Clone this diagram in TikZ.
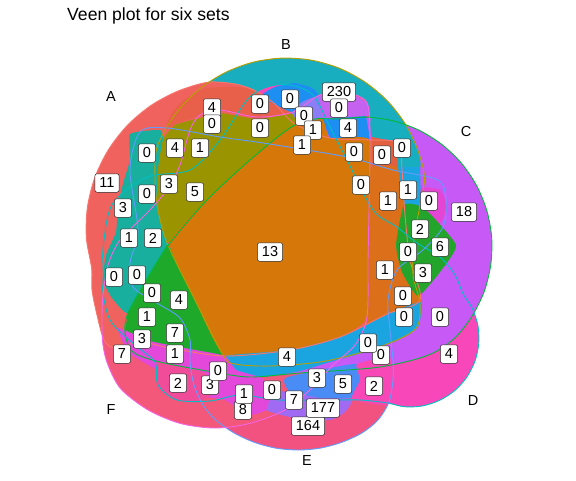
\documentclass[tikz,border=0pt]{standalone}
\usepackage{fontspec}
\setmainfont{Liberation Sans}
\definecolor{fA}{HTML}{F0625E}
\definecolor{fB}{HTML}{18AEBF}
\definecolor{fC}{HTML}{C75AF6}
\definecolor{fD}{HTML}{F747B8}
\definecolor{fE}{HTML}{F2527F}
\definecolor{fF}{HTML}{F3577A}
\definecolor{lA}{HTML}{F8766D}
\definecolor{lB}{HTML}{B79F00}
\definecolor{lC}{HTML}{00BA38}
\definecolor{lD}{HTML}{00BFC4}
\definecolor{lE}{HTML}{619CFF}
\definecolor{lF}{HTML}{F564E3}
\definecolor{cTG}{HTML}{19AF9F}
\definecolor{cGA}{HTML}{1FA92B}
\definecolor{cOL}{HTML}{9A9400}
\definecolor{cSA}{HTML}{E9604A}
\definecolor{cBT}{HTML}{1E8FF2}
\definecolor{cVI}{HTML}{8B7DF5}
\definecolor{cPU}{HTML}{C662F0}
\definecolor{cOR}{HTML}{D67809}
\definecolor{cDO}{HTML}{DC6F1A}
\definecolor{cRO}{HTML}{E2603F}
\definecolor{cGR}{HTML}{22A52A}
\definecolor{cBS}{HTML}{1AA5E0}
\definecolor{cMS}{HTML}{E545D3}
\definecolor{cTE}{HTML}{17AFC0}
\definecolor{cVB}{HTML}{4A8CF6}
\definecolor{cPK}{HTML}{F848B8}
\definecolor{cVT}{HTML}{A06AF2}
\definecolor{cMB}{HTML}{E448DA}
\definecolor{cRS}{HTML}{F04C9A}
\def\shA{plot[smooth cycle,tension=0.5] coordinates {(208.3,82.2) (235,84) (256,91) (275,104) (295,124) (330,138) (370,140) (398,143) (402,170) (405,215) (410,260) (420,300) (387,314) (340,337) (290,350) (225,356) (170,348) (140,342) (115,348) (104,340) (97,315) (92,290) (91.7,268.8) (86.4,238.3) (87.4,207.4) (94.9,177.4) (108.5,149.6) (127.5,125.2) (151.2,105.3) (178.6,90.8)}}
\def\shB{plot[smooth cycle,tension=0.5] coordinates {(156.4,149.5) (166.6,127.5) (180.5,107.7) (201.4,87.5) (226.1,72.1) (253.4,62.1) (282.1,58.1) (311.1,60.1) (339.1,68.1) (364.7,81.8) (387,100.4) (404.9,123.3) (417.6,149.5) (424.6,177.6) (420,205) (414,240) (413,275) (420,303) (417,327) (397,340) (363,352) (320,362) (270,366) (235,364) (223,355) (195,300) (168,245) (158,210) (155,178)}}
\def\shC{plot[smooth cycle,tension=0.5] coordinates {(339.4,119) (366.5,117.1) (393.4,120.9) (419,130.2) (442,144.6) (461.6,163.4) (476.8,186) (487,211.2) (491.7,237.9) (490.7,265.1) (484.2,291.5) (472.2,315.9) (455.5,337.3) (435,352) (413,360) (380,367) (347,370) (300,373) (250,377) (213,372) (160,362) (133,352) (125,333) (128,313) (148,277) (170,243) (207,200) (250,160) (290,128) (315,119)}}
\def\shD{plot[smooth cycle,tension=0.5] coordinates {(290,85) (313,95) (330,127) (347,160) (373,210) (397,227) (417,243) (440,257) (455,275) (462.9,293.6) (472.5,308.8) (478,326) (478.7,344) (474.8,361.6) (466.5,377.6) (454.4,390.9) (439.2,400.5) (422,406) (404,406.7) (386.4,402.8) (360,400) (330,400) (280,400) (240,395) (210,401) (177,400) (158,385) (155,362) (135,345) (110,320) (102,283) (104,240) (113,203) (147,177) (190,170) (220,140) (247,100) (267,87)}}
\def\shE{plot[smooth cycle,tension=0.5] coordinates {(215.7,420) (234,432.9) (254.2,442.3) (275.8,448.1) (298,450) (320.2,448.1) (341.8,442.3) (362,432.9) (378,420) (389,402) (393,380) (393,360) (390,330) (388,300) (397,270) (423,250) (443,227) (446,200) (438,180) (393,170) (347,157) (263,143) (220,137) (167,128) (140,132) (130,170) (138,230) (130,263) (133,287) (157,303) (180,318) (190,340) (190,362) (194,385) (203,405)}}
\def\shF{plot[smooth cycle,tension=0.5] coordinates {(320,95) (347,93) (367,103) (370,140) (369,210) (368,260) (367,317) (355,345) (333,365) (313,387) (285,410) (249.4,423.5) (215,428) (180.6,423.5) (148.5,410.2) (120.9,389) (108,365) (103,345) (102,320) (103,295) (108,265) (120,240) (147,213) (167,190) (180,165) (190,130) (200,115) (220,110) (257,117) (293,112)}}
\begin{document}
\begin{tikzpicture}[x=1pt,y=-1pt,
  lbl/.style={draw=black!85, fill=white, rounded corners=2.2pt, line width=0.5pt, inner xsep=4.6pt, inner ysep=0pt, minimum height=18.5pt, font=\fontsize{14.5}{15}\selectfont},
  setlbl/.style={font=\fontsize{14.5}{15}\selectfont, inner sep=0pt},
  setline/.style={line width=0.9pt}]
\useasboundingbox (0,0) rectangle (576,480);
\fill[white] (0,0) rectangle (576,480);
% set fills
\fill[fB] \shB;
\fill[fD] \shD;
\fill[fE] \shE;
\fill[fF] \shF;
\fill[fC] \shC;
\fill[fA] \shA;
% region patches
\fill[cTG] plot[smooth cycle,tension=0.3] coordinates {(130,134) (160,130) (163,140) (158,170) (158,210) (168,243) (148,277) (128,313) (112,298) (103,280) (106,255) (116,232) (118,205) (124,180) (130,160)};
\fill[cGA] (168,243) -- (195,300) -- (225,356) -- (190,350) -- (150,343) -- (125,330) -- (128,313) -- (148,277) -- cycle;
\fill[cSA] plot[smooth cycle,tension=0.3] coordinates {(165,130) (172,112) (185,99) (207,88) (240,87) (256,92) (274,104) (292,114) (257,118) (220,111) (200,116) (178,123)};
\fill[cOL] plot[smooth cycle,tension=0.3] coordinates {(158,210) (158,170) (163,140) (175,125) (200,118) (220,113) (257,119) (293,114) (300,126) (290,128) (250,160) (207,200) (170,243)};
\fill[cBT] plot[smooth cycle,tension=0.3] coordinates {(262,95) (275,87) (295,83) (312,88) (318,95) (302,102) (292,112) (274,104)};
\fill[cVI] (292,113) -- (302,102) -- (320,95) -- (324,118) -- (300,126) -- cycle;
\fill[cPU] plot[smooth cycle,tension=0.3] coordinates {(320,95) (347,92) (367,103) (368,116) (324,118)};
\fill[cBT] (322,119) -- (366,116) -- (370,139) -- (330,138) -- cycle;
\fill[cTE] plot[smooth cycle,tension=0.3] coordinates {(372,116) (405,124) (418,150) (420,167) (398,167) (397,142) (372,137)};
\fill[cRO] (372,137) -- (397,142) -- (398,167) -- (372,170) -- cycle;
\fill[cDO] plot[smooth cycle,tension=0.3] coordinates {(370,168) (400,168) (404,200) (405,218) (396,245) (402,272) (418,295) (421,302) (388,314) (366,322) (368,260) (369,210)};
\fill[cBS] (398,167) -- (420,167) -- (421,205) -- (404,205) -- cycle;
\fill[cMS] plot[smooth cycle,tension=0.3] coordinates {(421,188) (440,190) (447,207) (440,223) (424,214)};
\fill[cGR] plot[smooth cycle,tension=0.3] coordinates {(404,205) (424,208) (456,245) (440,272) (418,296) (402,272) (396,245)};
\fill[cOR] plot[smooth cycle,tension=0.3] coordinates {(170,243) (207,200) (250,160) (290,128) (322,119) (330,138) (370,140) (369,210) (368,260) (367,318) (340,337) (290,350) (225,356) (195,300)};
\fill[cBS] plot[smooth cycle,tension=0.3] coordinates {(225,356) (290,350) (340,337) (388,314) (421,302) (418,327) (398,340) (365,352) (330,362) (300,371) (262,377) (236,370)};
\fill[cVB] plot[smooth cycle,tension=0.3] coordinates {(285,378) (330,368) (357,364) (360,380) (352,398) (320,398) (290,392)};
\fill[cPK] plot[smooth cycle,tension=0.3] coordinates {(357,364) (390,358) (396,392) (386,405) (352,399) (360,380)};
\fill[cVT] plot[smooth cycle,tension=0.3] coordinates {(268,392) (290,392) (320,398) (352,399) (345,412) (330,420) (295,418) (266,410)};
\fill[cMB] plot[smooth cycle,tension=0.3] coordinates {(118,328) (150,341) (190,349) (225,356) (236,370) (262,378) (270,392) (266,410) (248,415) (225,400) (200,396) (175,380) (150,366) (128,352)};
\fill[cRS] plot[smooth cycle,tension=0.3] coordinates {(157,362) (178,366) (205,373) (215,392) (197,402) (175,400) (158,387)};
% set outlines
\draw[setline, lA] \shA;
\draw[setline, lB] \shB;
\draw[setline, lC] \shC;
\draw[setline, lD] \shD;
\draw[setline, lE] \shE;
\draw[setline, lF] \shF;
% title and set names
\node[anchor=base west, inner sep=0pt, font=\fontsize{17.6}{20}\selectfont] (title) at (67,20) {Veen plot for six sets};
\node[setlbl] (nA) at (111,97) {A};
\node[setlbl] (nB) at (286,45) {B};
\node[setlbl] (nC) at (466,132) {C};
\node[setlbl] (nD) at (473,401) {D};
\node[setlbl] (nE) at (307,461) {E};
\node[setlbl] (nF) at (111,410) {F};
% count labels
\node[lbl] (l1) at (212,108) {4};
\node[lbl] (l2) at (212,124) {0};
\node[lbl] (l3) at (260,104) {0};
\node[lbl] (l4) at (260,128) {0};
\node[lbl] (l5) at (290,99) {0};
\node[lbl] (l6) at (304,116) {0};
\node[lbl] (l7) at (313,130) {1};
\node[lbl] (l8) at (302,145) {1};
\node[lbl] (l9) at (339,92) {230};
\node[lbl] (l10) at (339,108) {0};
\node[lbl] (l11) at (348,128) {4};
\node[lbl] (l12) at (354,152) {0};
\node[lbl] (l13) at (382,155) {0};
\node[lbl] (l14) at (402,148) {0};
\node[lbl] (l15) at (147,153) {0};
\node[lbl] (l16) at (175,148) {4};
\node[lbl] (l17) at (200,148) {1};
\node[lbl] (l18) at (107,183) {11};
\node[lbl] (l19) at (147,194) {0};
\node[lbl] (l20) at (169,184) {3};
\node[lbl] (l21) at (195,192) {5};
\node[lbl] (l22) at (123,208) {3};
\node[lbl] (l23) at (129,238) {1};
\node[lbl] (l24) at (153,238) {2};
\node[lbl] (l25) at (114,277) {0};
\node[lbl] (l26) at (137,275) {0};
\node[lbl] (l27) at (152,293) {0};
\node[lbl] (l28) at (179,300) {4};
\node[lbl] (l29) at (147,317) {1};
\node[lbl] (l30) at (142,339) {3};
\node[lbl] (l31) at (175,333) {7};
\node[lbl] (l32) at (122,354) {7};
\node[lbl] (l33) at (175,354) {1};
\node[lbl] (l34) at (270,252) {13};
\node[lbl] (l35) at (361,185) {0};
\node[lbl] (l36) at (408,190) {1};
\node[lbl] (l37) at (388,201) {1};
\node[lbl] (l38) at (429,201) {0};
\node[lbl] (l39) at (464,212) {18};
\node[lbl] (l40) at (420,229) {2};
\node[lbl] (l41) at (440,247) {6};
\node[lbl] (l42) at (408,252) {0};
\node[lbl] (l43) at (385,270) {1};
\node[lbl] (l44) at (423,273) {3};
\node[lbl] (l45) at (403,296) {0};
\node[lbl] (l46) at (404,317) {0};
\node[lbl] (l47) at (440,317) {0};
\node[lbl] (l49) at (381,355) {0};
\node[lbl] (l48) at (368,343) {0};
\node[lbl] (l50) at (449,354) {4};
\node[lbl] (l51) at (287,357) {4};
\node[lbl] (l54) at (210,385) {3};
\node[lbl] (l52) at (218,371) {0};
\node[lbl] (l53) at (178,383) {2};
\node[lbl] (l56) at (243,410) {8};
\node[lbl] (l55) at (244,394) {1};
\node[lbl] (l57) at (272,390) {0};
\node[lbl] (l58) at (294,400) {7};
\node[lbl] (l59) at (317,378) {3};
\node[lbl] (l60) at (343,384) {5};
\node[lbl] (l61) at (374,386) {2};
\node[lbl] (l63) at (308,426) {164};
\node[lbl] (l62) at (323,408) {177};
\end{tikzpicture}
\end{document}
